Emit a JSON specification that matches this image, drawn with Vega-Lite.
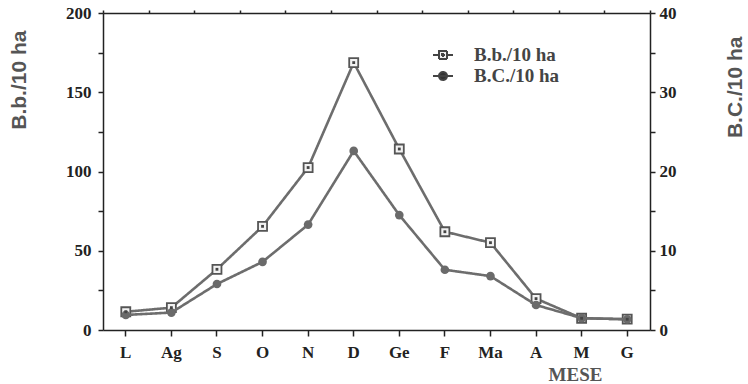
{
  "$schema": "https://vega.github.io/schema/vega-lite/v6.json",
  "width": 547,
  "height": 317,
  "autosize": {"type": "none"},
  "padding": {"left": 103, "top": 13, "right": 98, "bottom": 54},
  "background": "white",
  "data": {
    "values": [
      {"month": "L", "bb": 11.5, "bc": 1.9},
      {"month": "Ag", "bb": 14.1, "bc": 2.2},
      {"month": "S", "bb": 38.3, "bc": 5.8},
      {"month": "O", "bb": 65.4, "bc": 8.6},
      {"month": "N", "bb": 102.5, "bc": 13.3},
      {"month": "D", "bb": 168.7, "bc": 22.6},
      {"month": "Ge", "bb": 114.2, "bc": 14.5},
      {"month": "F", "bb": 62.0, "bc": 7.6},
      {"month": "Ma", "bb": 55.1, "bc": 6.8},
      {"month": "A", "bb": 19.8, "bc": 3.15},
      {"month": "M", "bb": 7.4, "bc": 1.5},
      {"month": "G", "bb": 6.8, "bc": 1.35}
    ]
  },
  "layer": [
    {
      "encoding": {
        "x": {
          "field": "month", "type": "nominal", "sort": null,
          "scale": {"type": "band", "paddingInner": 0, "paddingOuter": 0},
          "axis": {
            "labelAngle": 0, "ticks": true, "tickSize": 6, "tickWidth": 1.5, "tickColor": "#222",
            "domain": true, "domainColor": "#222", "domainWidth": 1.5,
            "labelFont": "Liberation Serif", "labelFontSize": 17, "labelFontWeight": "bold", "labelColor": "#222",
            "labelPadding": 8,
            "title": "MESE", "titleFont": "Liberation Serif", "titleFontSize": 19, "titleFontWeight": "bold",
            "titleColor": "#555", "titleX": 472, "titleY": 50, "titleBaseline": "alphabetic", "titleAlign": "center"
          }
        },
        "y": {
          "field": "bb", "type": "quantitative",
          "scale": {"domain": [0, 200], "nice": false},
          "axis": {
            "orient": "left", "grid": false,
            "values": [0, 25, 50, 75, 100, 125, 150, 175, 200],
            "labelExpr": "datum.value % 50 == 0 ? datum.label : ''",
            "ticks": true, "tickSize": 5, "tickWidth": 1.5, "tickColor": "#222",
            "domain": true, "domainColor": "#222", "domainWidth": 1.5,
            "labelFont": "Liberation Serif", "labelFontSize": 17, "labelFontWeight": "bold", "labelColor": "#222",
            "labelPadding": 7,
            "title": "B.b./10 ha", "titleFont": "Liberation Sans", "titleFontSize": 21, "titleFontWeight": "bold",
            "titleColor": "#555", "titleAngle": -90, "titleAlign": "right", "titleBaseline": "middle",
            "titleX": -84, "titleY": 17
          }
        }
      },
      "layer": [
        {
          "mark": {"type": "line", "color": "#6d6d6d", "strokeWidth": 2.6},
          "encoding": {
            "strokeDash": {
              "datum": "B.b./10 ha",
              "scale": {"domain": ["B.b./10 ha", "B.C./10 ha"], "range": [[1, 0], [1, 0]]},
              "legend": {
                "orient": "none", "legendX": 329, "legendY": 31, "title": null, "padding": 0,
                "symbolSize": 400, "labelOffset": 20, "rowPadding": 0,
                "labelFont": "Liberation Serif", "labelFontSize": 19, "labelFontWeight": "bold", "labelColor": "#444",
                "symbolStrokeWidth": 2,
                "encoding": {
                  "symbols": {
                    "shape": {"value": {"expr": "datum.value == 'B.b./10 ha' ? 'M -1 0 H -0.4 M 0.4 0 H 1 M -0.4 -0.4 H 0.4 V 0.4 H -0.4 Z M -0.1 -0.1 H 0.1 V 0.1 H -0.1 Z' : 'M -1 0 H 1 M 0.4 0 A 0.4 0.4 0 1 1 -0.4 0 A 0.4 0.4 0 1 1 0.4 0 Z'"}},
                    "fill": {"value": {"expr": "datum.value == 'B.b./10 ha' ? '#f2f2f2' : '#333'"}},
                    "stroke": {"value": "#444"},
                    "strokeWidth": {"value": 2}
                  }
                }
              }
            }
          }
        },
        {"mark": {"type": "point", "shape": "square", "filled": true, "fill": "#f2f2f2", "stroke": "#555", "strokeWidth": 1.8, "size": 81, "opacity": 1}}
      ]
    },
    {
      "encoding": {
        "x": {
          "field": "month", "type": "nominal", "sort": null,
          "scale": {"type": "band", "paddingInner": 0, "paddingOuter": 0},
          "axis": {
            "tickBand": "extent", "labels": false, "domain": false, "title": null,
            "ticks": true, "tickSize": 3, "tickWidth": 1.5, "tickColor": "#222"
          }
        },
        "y": {
          "field": "bc", "type": "quantitative",
          "scale": {"domain": [0, 40], "nice": false},
          "axis": {
            "orient": "right", "grid": false,
            "values": [0, 5, 10, 15, 20, 25, 30, 35, 40],
            "labelExpr": "datum.value % 10 == 0 ? datum.label : ''",
            "ticks": true, "tickSize": 5, "tickWidth": 1.5, "tickColor": "#222",
            "domain": true, "domainColor": "#222", "domainWidth": 1.5,
            "labelFont": "Liberation Serif", "labelFontSize": 17, "labelFontWeight": "bold", "labelColor": "#222",
            "labelPadding": 4,
            "title": "B.C./10 ha", "titleFont": "Liberation Sans", "titleFontSize": 21, "titleFontWeight": "bold",
            "titleColor": "#555", "titleAngle": -90, "titleAlign": "right", "titleBaseline": "middle",
            "titleX": 85, "titleY": 23
          }
        }
      },
      "layer": [
        {
          "mark": {"type": "line", "color": "#6d6d6d", "strokeWidth": 2.6},
          "encoding": {"strokeDash": {"datum": "B.C./10 ha"}}
        },
        {"mark": {"type": "point", "shape": "circle", "filled": true, "color": "#6a6a6a", "size": 75, "opacity": 1}}
      ]
    },
    {
      "mark": {"type": "point", "shape": "square", "filled": true, "color": "#444", "size": 8, "opacity": 1},
      "encoding": {
        "x": {
          "field": "month", "type": "nominal", "sort": null,
          "scale": {"type": "band", "paddingInner": 0, "paddingOuter": 0},
          "axis": {
            "orient": "top", "labels": false, "ticks": false, "title": null,
            "domain": true, "domainColor": "#222", "domainWidth": 1.5
          }
        },
        "y": {
          "field": "bb", "type": "quantitative",
          "scale": {"domain": [0, 200], "nice": false},
          "axis": null
        }
      }
    }
  ],
  "resolve": {"scale": {"y": "independent"}, "axis": {"x": "independent"}},
  "config": {
    "view": {"stroke": null}
  }
}
